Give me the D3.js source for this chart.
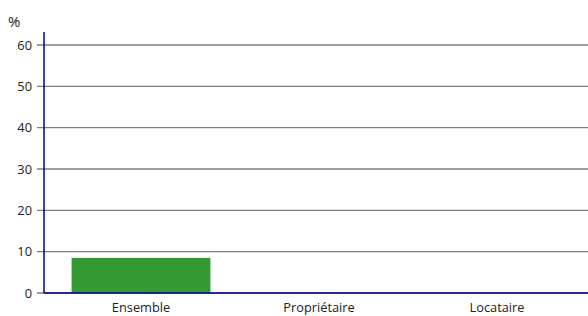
<!DOCTYPE html>
<html>
<head>
<meta charset="utf-8">
<script src="https://cdn.jsdelivr.net/npm/d3@7"></script>
<style>
  body { margin: 0; background: #fff; }
  svg { display: block; font-family: "Open Sans", "Noto Sans", sans-serif; }
</style>
</head>
<body>
<svg id="chart"></svg>
<script>
const categories = ['Ensemble', 'Propriétaire', 'Locataire']
const values = [8.5, null, null]
const yTicks = [0, 10, 20, 30, 40, 50, 60]

const width = 588, height = 316
const marginLeft = 44, axisTop = 32

const svg = d3.select('#chart')
    .attr('width', width)
    .attr('height', height)

const x = d3.scaleBand(categories, [52, 586])
    .paddingInner(0.22)
    .paddingOuter(0.11)
const y = d3.scaleLinear([0, 60], [293, 45])

// gridlines + ticks
svg.append('g')
    .selectAll('line')
    .data(yTicks)
    .join('line')
      .attr('x1', 37)
      .attr('x2', width)
      .attr('y1', d => y(d))
      .attr('y2', d => y(d))
      .attr('stroke', '#7f7f7f')
      .attr('stroke-width', 1.3)

svg.append('g')
    .selectAll('text')
    .data(yTicks)
    .join('text')
      .attr('x', 32)
      .attr('y', d => y(d))
      .attr('dy', '0.36em')
      .attr('text-anchor', 'end')
      .attr('font-size', 12.8)
      .attr('fill', '#222')
      .text(d => d)

// bars
svg.append('g')
    .selectAll('rect')
    .data(categories.map((c, i) => ({c, v: values[i]})).filter(d => d.v != null))
    .join('rect')
      .attr('x', d => x(d.c))
      .attr('width', x.bandwidth())
      .attr('y', d => y(d.v))
      .attr('height', d => y(0) - y(d.v))
      .attr('fill', '#339933')

// axes
svg.append('line')
    .attr('x1', marginLeft).attr('x2', marginLeft)
    .attr('y1', axisTop).attr('y2', y(0))
    .attr('stroke', '#00008b').attr('stroke-width', 1.5)
svg.append('line')
    .attr('x1', marginLeft).attr('x2', width)
    .attr('y1', y(0)).attr('y2', y(0))
    .attr('stroke', '#00008b').attr('stroke-width', 1.5)

svg.append('g')
    .selectAll('text')
    .data(categories)
    .join('text')
      .attr('x', d => x(d) + x.bandwidth() / 2)
      .attr('y', 312)
      .attr('text-anchor', 'middle')
      .attr('font-size', 12.8)
      .attr('fill', '#222')
      .text(d => d)

svg.append('text')
    .attr('x', 8)
    .attr('y', 26.5)
    .attr('font-size', 15)
    .attr('fill', '#222')
    .text('%')
</script>
</body>
</html>
